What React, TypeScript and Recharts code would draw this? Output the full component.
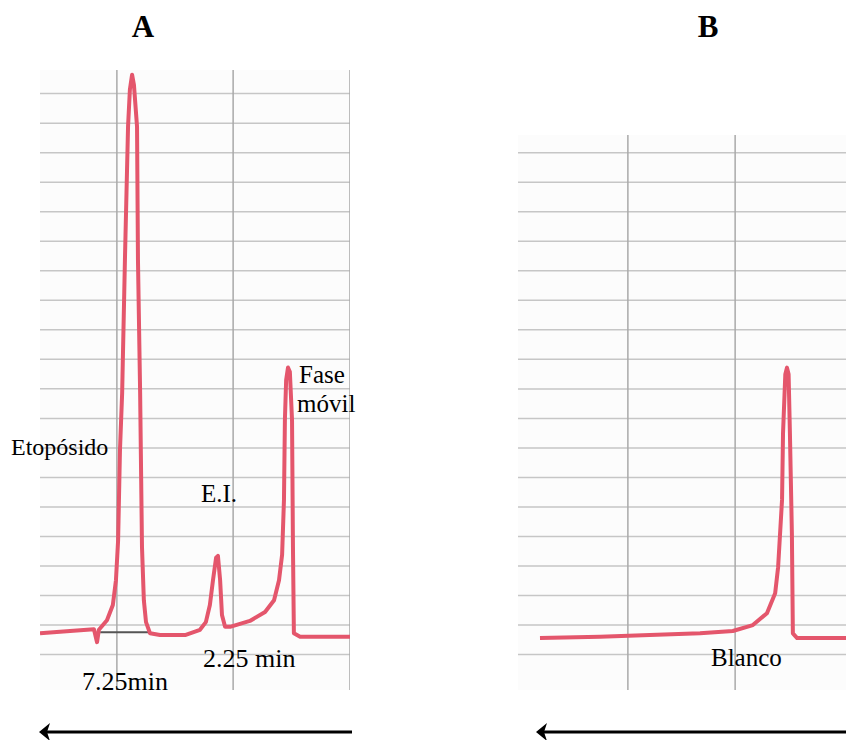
import React from "react";
import { LineChart, Line, XAxis, YAxis, CartesianGrid } from "recharts";

// Panel A: chromatogram (relative position along chart paper, detector signal)
const traceAPos = [0, 9.7, 17.4, 18.4, 19.0, 21.6, 23.5, 24.5, 25.2, 25.8, 26.5, 27.4, 28.4, 29.0, 29.7, 30.3, 31.3, 31.6, 32.3, 32.9, 33.5, 34.2, 35.5, 38.7, 46.8, 51.6, 53.5, 54.8, 55.8, 56.8, 57.4, 58.1, 58.7, 59.7, 61.3, 67.7, 72.6, 75.5, 77.1, 78.1, 78.7, 79.0, 79.4, 80.0, 80.6, 81.3, 81.6, 81.9, 83.9, 100];
const traceASignal = [8.6, 9.0, 9.3, 7.1, 9.2, 10.8, 13.4, 17.6, 24.4, 39.7, 49.3, 71.9, 94.4, 100.7, 103.2, 101.5, 94.4, 71.9, 49.3, 23.2, 14.2, 10.5, 8.6, 8.3, 8.3, 9.2, 10.5, 13.4, 17.6, 21.4, 21.7, 17.6, 11.7, 9.7, 9.7, 10.7, 12.2, 14.2, 17.6, 21.9, 31.2, 44.7, 51.5, 53.6, 52.9, 44.7, 23.2, 8.6, 8.0, 8.0];
const integrationPos = [19.4, 35.5];
const integrationSignal = [8.8, 8.8];

// Panel B: blank
const traceBPos = [6.7, 25, 40.2, 55.5, 65.5, 71.6, 75.9, 78.4, 79.3, 80.5, 80.8, 81.5, 82.0, 82.5, 82.9, 83.5, 83.8, 85.1, 100];
const traceBSignal = [7.8, 8.0, 8.3, 8.6, 9.0, 10.0, 12.0, 15.4, 19.8, 31.2, 42.5, 52.5, 53.6, 52.5, 42.5, 25.6, 8.6, 7.8, 7.8];

// Chart paper grid
const gridAVertical = [24.8, 62.3, 100];
const gridBVertical = [33.5, 66.2];
const gridAHorizontal = [0, 5, 10, 15, 20, 25, 30, 35, 40, 45, 50, 55, 60, 65, 70, 75, 80, 85, 90, 95, 100];
const gridBHorizontal = [0, 5, 10, 15, 20, 25, 30, 35, 40, 45, 50, 55, 60, 65, 70, 75, 80, 85, 90];

const panelTitles = ["A", "B"];
const labels = {
  etoposido: "Etopósido",
  ei: "E.I.",
  fase: "Fase",
  movil: "móvil",
  t1: "2.25 min",
  t2: "7.25min",
  blanco: "Blanco",
};

const toData = (xs: number[], ys: number[]) => xs.map((x, i) => ({ x, y: ys[i] }));

const dataA = toData(traceAPos, traceASignal);
const dataInt = toData(integrationPos, integrationSignal);
const dataB = toData(traceBPos, traceBSignal);

const TRACE = "#e4566c";
const serif = "'Liberation Serif', 'Times New Roman', serif";

export default function App() {
  return (
    <div style={{ position: "absolute", left: 0, top: 0, width: 846, height: 740, background: "#fff", overflow: "hidden" }}>
      <div style={{ position: "absolute", left: 40, top: 70, background: "#fcfcfc" }}>
        <LineChart width={310} height={620} margin={{ top: 0, right: 0, bottom: 0, left: 0 }}>
          <XAxis type="number" dataKey="x" domain={[0, 100]} hide allowDataOverflow />
          <YAxis type="number" dataKey="y" domain={[-1, 104]} hide allowDataOverflow />
          <CartesianGrid vertical={false} horizontalValues={gridAHorizontal} stroke="#c6c6c6" strokeWidth={1.5} />
          <CartesianGrid horizontal={false} verticalValues={gridAVertical} stroke="#a9a9a9" strokeWidth={1.5} />
          <Line data={dataInt} dataKey="y" type="linear" stroke="#555" strokeWidth={2} dot={false} isAnimationActive={false} />
          <Line data={dataA} dataKey="y" type="linear" stroke={TRACE} strokeWidth={4} strokeLinejoin="round" dot={false} isAnimationActive={false} />
        </LineChart>
      </div>
      <div style={{ position: "absolute", left: 518, top: 135, background: "#fcfcfc" }}>
        <LineChart width={328} height={555} margin={{ top: 0, right: 0, bottom: 0, left: 0 }}>
          <XAxis type="number" dataKey="x" domain={[0, 100]} hide allowDataOverflow />
          <YAxis type="number" dataKey="y" domain={[-1, 93]} hide allowDataOverflow />
          <CartesianGrid vertical={false} horizontalValues={gridBHorizontal} stroke="#c6c6c6" strokeWidth={1.5} />
          <CartesianGrid horizontal={false} verticalValues={gridBVertical} stroke="#a9a9a9" strokeWidth={1.5} />
          <Line data={dataB} dataKey="y" type="linear" stroke={TRACE} strokeWidth={4} strokeLinejoin="round" dot={false} isAnimationActive={false} />
        </LineChart>
      </div>
      <svg width={846} height={740} style={{ position: "absolute", left: 0, top: 0, pointerEvents: "none" }}>
        <g fontFamily={serif} fill="#000">
          <text x={143} y={37} fontSize={31} fontWeight="bold" textAnchor="middle">{panelTitles[0]}</text>
          <text x={708} y={37} fontSize={31} fontWeight="bold" textAnchor="middle">{panelTitles[1]}</text>
          <text x={11} y={455} fontSize={24}>{labels.etoposido}</text>
          <text x={201} y={502} fontSize={25}>{labels.ei}</text>
          <text x={299} y={383} fontSize={25}>{labels.fase}</text>
          <text x={297} y={412} fontSize={25}>{labels.movil}</text>
          <text x={203} y={667} fontSize={26}>{labels.t1}</text>
          <text x={82} y={690} fontSize={26}>{labels.t2}</text>
          <text x={711} y={666} fontSize={25}>{labels.blanco}</text>
        </g>
        <g stroke="#000" strokeWidth={3} fill="#000">
          <line x1={46} y1={732} x2={352} y2={732} />
          <line x1={543} y1={732} x2={846} y2={732} />
        </g>
        <polygon points="39,732 50,723 47,732 50,741" fill="#000" />
        <polygon points="536,732 547,723 544,732 547,741" fill="#000" />
      </svg>
    </div>
  );
}
